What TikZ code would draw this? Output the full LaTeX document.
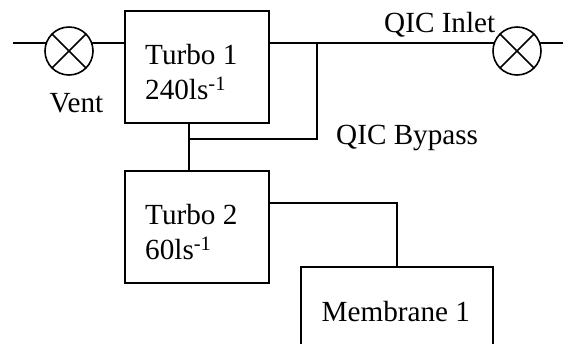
\documentclass[tikz,border=0pt]{standalone}
\usepackage{fontspec}
\setmainfont{Liberation Serif}
\tikzset{
  x=1bp,y=-1bp,
  every node/.style={font=\fontsize{29.3}{34}\selectfont},
  wire/.style={line width=1.6bp,black},
  pumpbox/.style={draw,line width=1.6bp,rectangle,outer sep=0pt,minimum width=144bp,minimum height=112bp,anchor=north west},
  valve/.style={draw,line width=1.6bp,circle,outer sep=0pt,minimum size=48bp,inner sep=0pt,anchor=center},
  lbl/.style={inner sep=0pt,anchor=base west}
}
\begin{document}
\begin{tikzpicture}
\useasboundingbox (0,0) rectangle (563,343);
\clip (0,0) rectangle (563,343);
\node[pumpbox] (t1) at (125,11) {};
\node[pumpbox] (t2) at (125,171) {};
\node[pumpbox,minimum width=192bp,minimum height=112bp] (m1) at (301,267) {};
\node[lbl] (t1a) at (145,64.5) {Turbo 1};
\node[lbl] (t1b) at (145,99) {240ls\textsuperscript{-1}};
\node[lbl] (t2a) at (145,224.5) {Turbo 2};
\node[lbl] (t2b) at (145,259) {60ls\textsuperscript{-1}};
\node[lbl] (m1a) at (321.5,321) {Membrane 1};
\node[valve] (v1) at (69,51) {};
\node[valve] (v2) at (517,51) {};
\draw[wire] (v1.45) -- (v1.225) (v1.135) -- (v1.315);
\draw[wire] (v2.45) -- (v2.225) (v2.135) -- (v2.315);
\coordinate (ventend) at (13,43);
\coordinate (inletend) at (563,43);
\coordinate (t1right) at (t1.north east |- ventend);
\coordinate (t1left) at (t1.north west |- ventend);
\coordinate (v1l) at (v1.west |- ventend);
\coordinate (v1r) at (v1.east |- ventend);
\coordinate (v2l) at (v2.west |- ventend);
\coordinate (v2r) at (v2.east |- ventend);
\coordinate (drop) at (189,123);
\coordinate (dropb) at (189,171);
\coordinate (byL) at (189,139);
\coordinate (byR) at (317,139);
\coordinate (byT) at (317,43);
\coordinate (t2r) at (269,203);
\coordinate (mt) at (397,267);
\draw[wire] (ventend) -- ([xshift=1.5bp]v1l);
\draw[wire] ([xshift=-1.5bp]v1r) -- (t1left);
\draw[wire] (t1right) -- ([xshift=1.5bp]v2l);
\draw[wire] ([xshift=-1.5bp]v2r) -- (inletend);
\draw[wire] (drop) -- (dropb);
\draw[wire] (byL) -- (byR) -- (byT);
\draw[wire] (t2r) -- (mt |- t2r) -- (mt);
\node[lbl] (vent) at (49.5,112) {Vent};
\node[lbl] (qi) at (384,32) {QIC Inlet};
\node[lbl] (qb) at (336,144) {QIC Bypass};
\end{tikzpicture}
\end{document}
